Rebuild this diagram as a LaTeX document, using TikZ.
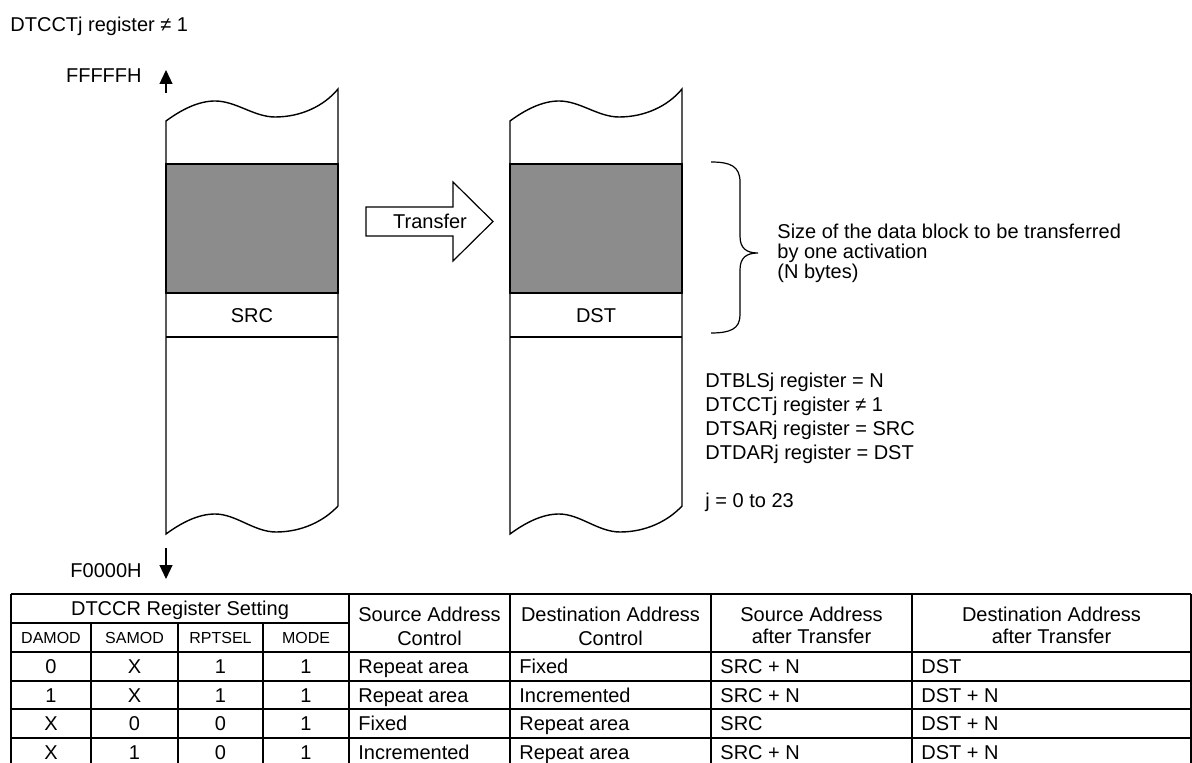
\documentclass[tikz,border=0pt]{standalone}
\usepackage{fontspec}
\setmainfont{Liberation Sans}
\usetikzlibrary{arrows.meta}

\begin{document}
\begin{tikzpicture}[x=0.5pt,y=-0.5pt,font=\fontsize{10}{12}\selectfont,
 t/.style={inner sep=0pt,text height=7.2pt,text depth=0pt},
 sm/.style={t,font=\fontsize{8}{9.6}\selectfont,text height=5.8pt},
 ad/.style={-{Triangle[length=7pt,width=6.5pt]},line width=0.6pt},
 col/.style={draw,line width=0.7pt,fill=white},
 blk/.style={draw,line width=0.7pt,fill=black!45},
 tl/.style={line width=0.8pt}]
\useasboundingbox (0,0) rectangle (1192,763);
\node[t,anchor=west](ttl) at (10,24){DTCCTj register ≠ 1};
\node[t,anchor=east](hi) at (142,75){FFFFFH};
\node[t,anchor=east](lo) at (142,570){F0000H};
\coordinate (hi0) at (166,93); \coordinate (hi1) at (166,70);
\coordinate (lo0) at (166,548); \coordinate (lo1) at (166,579);
\draw[ad](hi0)--(hi1);\draw[ad](lo0)--(lo1);

% memory areas
\foreach \xo/\lb/\nm in {166/SRC/src,510/DST/dst}{
 \begin{scope}[shift={(\xo,0)}]
 \draw[col](0,121) .. controls (15,110) and (32,101) .. (49,101) .. controls (70,101) and (88,117) .. (109,117) .. controls (135,117) and (158,106) .. (172,89)
  -- (172,506) .. controls (158,521) and (136,532) .. (110,532) .. controls (88,532) and (70,514) .. (49,514) .. controls (32,514) and (15,523) .. (0,534) -- cycle;
 \draw[blk](0,164) rectangle (172,293);
 \draw[line width=0.7pt](0,337)--(172,337);
 \node[t](\nm) at (86,315){\lb};
 \end{scope}}

% transfer arrow
\draw[line width=0.6pt,fill=white](366,207)--(453,207)--(453,182)--(493,221.5)--(453,261)--(453,236)--(366,236)--cycle;
\node[t](xfer) at (430,221.5){Transfer};

% brace + notes
\coordinate (bt) at (758,253);
\draw[line width=0.6pt](711,162) .. controls (730,162) and (740,166) .. (740,182) -- (740,236) .. controls (740,248) and (746,253) .. (bt) .. controls (746,253) and (740,258) .. (740,270) -- (740,315) .. controls (740,329) and (730,333) .. (711,333);
\node[inner sep=0pt,anchor=west,align=left,font=\fontsize{10}{10}\selectfont](sz) at (777,253){Size of the data block to be transferred\\by one activation\\(N bytes)};
\node[inner sep=0pt,anchor=west,align=left](regs) at (705,442){DTBLSj register = N\\DTCCTj register ≠ 1\\DTSARj register = SRC\\DTDARj register = DST\\[12pt]j = 0 to 23};

% table
\draw[tl](11,594)--(1191,594) (11,623)--(349,623);
\foreach \y in {652,681,709,738}\draw[tl](11,\y)--(1191,\y);
\foreach \x in {11,349,510,711,912,1191}\draw[tl](\x,594)--(\x,763);
\foreach \x in {91,178,263}\draw[tl](\x,623)--(\x,763);
\node[t](hd) at (180,608.5){DTCCR Register Setting};
\foreach \x/\s/\nm in {51/DAMOD/h1,134.5/SAMOD/h2,220.5/RPTSEL/h3,306/MODE/h4}\node[sm](\nm) at (\x,637.5){\s};
\node[inner sep=0pt,align=center](h5) at (429.5,626.5){Source Address\\Control};
\node[inner sep=0pt,align=center](h6) at (610.5,626.5){Destination Address\\Control};
\node[inner sep=0pt,align=center,font=\fontsize{10}{11}\selectfont](h7) at (811.5,625){Source Address\\after Transfer};
\node[inner sep=0pt,align=center,font=\fontsize{10}{11}\selectfont](h8) at (1051.5,625){Destination Address\\after Transfer};
\foreach \y/\a/\b/\c/\d/\e/\f/\g/\h [count=\i] in {666.5/0/X/1/1/Repeat area/Fixed/SRC + N/DST,
 695/1/X/1/1/Repeat area/Incremented/SRC + N/DST + N,
 723.5/X/0/0/1/Fixed/Repeat area/SRC/DST + N,
 752/X/1/0/1/Incremented/Repeat area/SRC + N/DST + N}{
 \node[t](r\i a) at (51,\y){\a};
 \node[t](r\i b) at (134.5,\y){\b};
 \node[t](r\i c) at (220.5,\y){\c};
 \node[t](r\i d) at (306,\y){\d};
 \node[t,anchor=west](r\i e) at (358,\y){\e};
 \node[t,anchor=west](r\i f) at (519,\y){\f};
 \node[t,anchor=west](r\i g) at (720,\y){\g};
 \node[t,anchor=west](r\i h) at (921,\y){\h};}
\end{tikzpicture}
\end{document}
